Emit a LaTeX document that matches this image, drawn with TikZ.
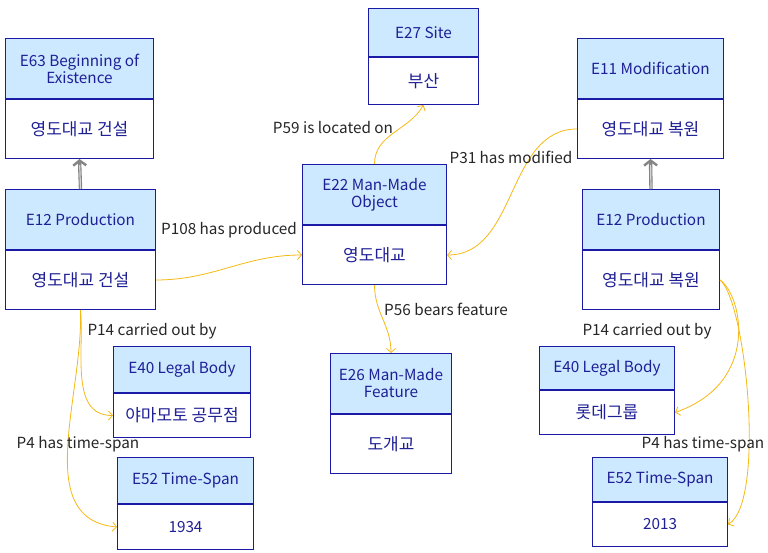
\documentclass[tikz,border=0pt]{standalone}
\usepackage{fontspec}
\setmainfont{Noto Sans CJK KR}
\usepackage{xcolor}
\usepackage{tikz}
\usetikzlibrary{arrows.meta,positioning}
\definecolor{bd}{HTML}{1A1AA6}
\definecolor{hd}{HTML}{CCE9FF}
\definecolor{tx}{HTML}{1F1F96}
\definecolor{pr}{HTML}{F5B914}
\definecolor{sb}{HTML}{858585}
\newcommand{\fs}{\fontsize{15.3}{17}\selectfont}
\newcommand{\ko}[1]{{\fontsize{17}{19}\selectfont #1}}
% one entity: name, x, y, width, head height, body height, class, value
\newcommand{\entity}[8]{%
  \node[head, minimum width=#4pt, minimum height=#5pt] (#1h) at (#2,#3) {#7};
  \node[body, minimum width=#4pt, minimum height=#6pt, below=0pt of #1h] (#1b) {#8};
}

\begin{document}
\begin{tikzpicture}[x=1pt, y=-1pt,
  head/.style={draw=bd, fill=hd, text=tx, line width=1pt, anchor=north west,
    align=center, inner sep=0pt, font=\fs},
  body/.style={draw=bd, fill=white, text=tx, line width=1pt, inner sep=0pt, font=\fs},
  prop/.style={draw=pr, line width=0.8pt, -{Straight Barb[length=4pt,width=9pt]}},
  plabel/.style={text=black!85, inner sep=0pt, font=\fs},
  subof/.style={draw=sb, line width=3.4pt,
    -{Straight Barb[length=5pt,width=13pt,line width=2.4pt]},
    postaction={draw=sb!35, line width=1.2pt, shorten >=6pt, -}}]
  \useasboundingbox (0,0) rectangle (768,553);

  \entity{eb}{5}{38}{148}{60}{59}{E63 Beginning of\\Existence}{\ko{영도대교 건설}}
  \entity{pa}{5}{189}{150}{60}{59}{E12 Production}{\ko{영도대교 건설}}
  \entity{ob}{302}{164}{144}{60}{59}{E22 Man-Made\\Object}{\ko{영도대교}}
  \entity{si}{368}{8}{110}{48}{47}{E27 Site}{\ko{부산}}
  \entity{mo}{577}{38}{146}{60}{59}{E11 Modification}{\ko{영도대교 복원}}
  \entity{pb}{582}{189}{137}{60}{59}{E12 Production}{\ko{영도대교 복원}}
  \entity{la}{113}{346}{137}{46}{44}{E40 Legal Body}{\ko{야마모토 공무점}}
  \entity{ta}{117}{457}{136}{46}{45}{E52 Time-Span}{1934}
  \entity{fe}{330}{353}{121}{60}{59}{E26 Man-Made\\Feature}{\ko{도개교}}
  \entity{lb}{539}{346}{135}{43}{44}{E40 Legal Body}{\ko{롯데그룹}}
  \entity{tb}{592}{457}{135}{44}{44}{E52 Time-Span}{2013}

  \draw[subof] (pah.north) -- (ebb.south);
  \draw[subof] (pbh.north) -- (mob.south);

  \draw[prop] (pab.east) to[out=0,in=180] (obb.west);
  \draw[prop] (obh.north) to[out=90,in=-120] (sib.south);
  \draw[prop] (mob.west) to[out=180,in=0] (obb.east);
  \draw[prop] (obb.south) to[out=-90,in=90] (feh.north);
  \draw[prop] (pab.south) to[out=-85,in=180] (lab.west);
  \draw[prop] (pab.south) to[out=-88,in=175] (tab.west);
  \draw[prop] (pbb.east) .. controls +(22,15) and +(86,-30) .. (lbb.east);
  \draw[prop] (pbb.east) .. controls +(26,21) and +(38,-23) .. (tbb.east);

  \node[plabel] (lpr) at (229,230) {P108 has produced};
  \node[plabel] (lloc) at (333,128) {P59 is located on};
  \node[plabel] (lmod) at (511,157) {P31 has modified};
  \node[plabel] (lfea) at (446,309) {P56 bears feature};
  \node[plabel] (lcaa) at (152,331) {P14 carried out by};
  \node[plabel] (ltsa) at (78,444) {P4 has time-span};
  \node[plabel] (lcab) at (647,331) {P14 carried out by};
  \node[plabel] (ltsb) at (703,444) {P4 has time-span};
\end{tikzpicture}
\end{document}
